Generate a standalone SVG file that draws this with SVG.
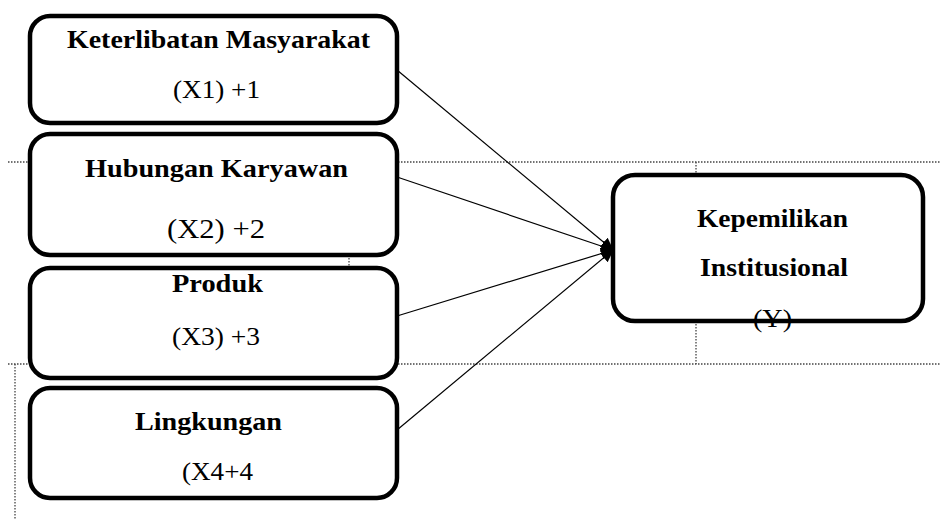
<svg xmlns="http://www.w3.org/2000/svg" width="941" height="519" viewBox="0 0 941 519">
<defs>
<style>
.box{fill:#fff;stroke:#000;stroke-width:4.5}
text{font-family:'Liberation Serif','DejaVu Serif',serif;font-size:25px;fill:#000}
.b{font-weight:bold}
.dot{stroke:#444;stroke-width:1.3;stroke-dasharray:1.5 1.5;fill:none}
.c{stroke:#000;stroke-width:1.2;fill:none}
</style>
<marker id="ah" markerWidth="13" markerHeight="12" refX="12" refY="6" orient="auto" markerUnits="userSpaceOnUse">
<path d="M0,0 L13,6 L0,12 z" fill="#000"/>
</marker>
</defs>
<g id="guides">
<line class="dot" x1="8" y1="162" x2="941" y2="162"/>
<line class="dot" x1="8" y1="364" x2="941" y2="364"/>
<line class="dot" x1="349" y1="162" x2="349" y2="364"/>
<line class="dot" x1="696" y1="162" x2="696" y2="364"/>
<line class="dot" x1="15" y1="364" x2="15" y2="519"/>
</g>
<g id="x1">
<rect class="box" x="30" y="16" width="367" height="107" rx="20"/>
<text class="b" x="67" y="48" textLength="303" lengthAdjust="spacingAndGlyphs">Keterlibatan Masyarakat</text>
<text x="173" y="98" textLength="87" lengthAdjust="spacingAndGlyphs">(X1) +1</text>
</g>
<g id="x2">
<rect class="box" x="30" y="134" width="367" height="121" rx="20"/>
<text class="b" x="85" y="177" textLength="263" lengthAdjust="spacingAndGlyphs">Hubungan Karyawan</text>
<text x="167" y="238" style="font-size:27px" textLength="98" lengthAdjust="spacingAndGlyphs">(X2) +2</text>
</g>
<g id="x3">
<rect class="box" x="30" y="268" width="367" height="110" rx="20"/>
<text class="b" x="172" y="292" textLength="91" lengthAdjust="spacingAndGlyphs">Produk</text>
<text x="172" y="345" textLength="88" lengthAdjust="spacingAndGlyphs">(X3) +3</text>
</g>
<g id="x4">
<rect class="box" x="30" y="388" width="367" height="110" rx="20"/>
<text class="b" x="135" y="430" textLength="147" lengthAdjust="spacingAndGlyphs">Lingkungan</text>
<text x="182" y="480" textLength="71" lengthAdjust="spacingAndGlyphs">(X4+4</text>
</g>
<g id="y">
<rect class="box" x="613" y="175" width="310" height="146" rx="22"/>
<text class="b" x="697" y="227" textLength="151" lengthAdjust="spacingAndGlyphs">Kepemilikan</text>
<text class="b" x="700" y="276" textLength="148" lengthAdjust="spacingAndGlyphs">Institusional</text>
<text x="753" y="327" textLength="39" lengthAdjust="spacingAndGlyphs">(Y)</text>
</g>
<g id="connectors">
<line class="c" x1="397" y1="70" x2="613" y2="250" marker-end="url(#ah)"/>
<line class="c" x1="397" y1="177" x2="613" y2="250" marker-end="url(#ah)"/>
<line class="c" x1="397" y1="316" x2="613" y2="250" marker-end="url(#ah)"/>
<line class="c" x1="397" y1="430" x2="613" y2="250" marker-end="url(#ah)"/>
</g>
</svg>
